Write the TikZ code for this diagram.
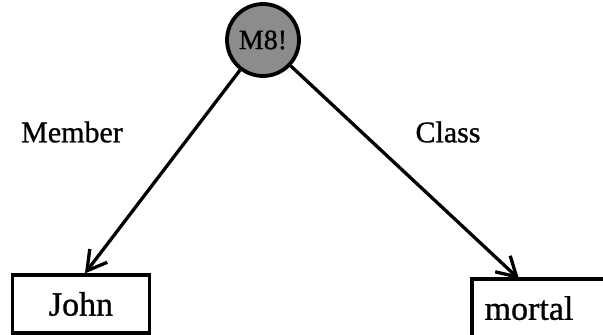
\documentclass[tikz,border=0pt]{standalone}
\usepackage{fontspec}
\setmainfont{Liberation Serif}[FakeBold=0.9]
\usetikzlibrary{arrows.meta}
\begin{document}
\begin{tikzpicture}[x=1pt,y=-1pt,
  concept/.style={circle,draw,line width=3.8pt,fill=black!45,minimum size=72pt,inner sep=0pt,font=\fontsize{28}{30}\selectfont},
  leafbox/.style={draw,line width=3.3pt,rectangle,inner sep=0pt,font=\fontsize{34}{36}\selectfont},
  edgeline/.style={line width=3.3pt},
  link/.style={line width=3.3pt,-{Straight Barb[length=19pt,width=22pt,line width=3.3pt]}},
  lbl/.style={font=\fontsize{30}{32}\selectfont}]
  \useasboundingbox (0,0) rectangle (603,335);
  \node[concept] (m8) at (263,40) {M8!};
  \node[leafbox,minimum width=137pt,minimum height=58pt] (john) at (81,304) {John};
  % the right-hand box is open on its right: only three sides are drawn
  \node[leafbox,draw=none,minimum height=55pt,anchor=north west,inner xsep=11pt,text width=140pt,align=left] (mortal) at (472,279) {mortal};
  \draw[edgeline] (mortal.north east) -- (mortal.north west) -- (mortal.south west) -- (mortal.south east);
  \node[lbl] (member) at (72,132) {Member};
  \node[lbl] (class) at (448,132) {Class};
  \draw[link] (m8) -- ([xshift=4pt]john.north);
  \draw[link] (m8) -- ([xshift=47pt]mortal.north west);
\end{tikzpicture}
\end{document}
